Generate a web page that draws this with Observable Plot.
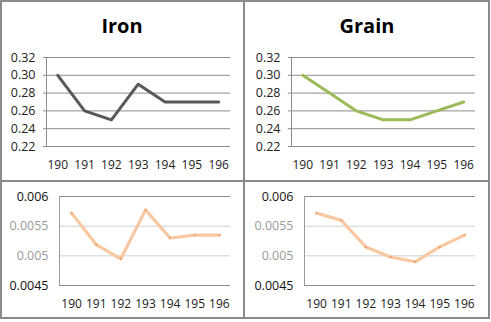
<!DOCTYPE html>
<html><head><meta charset="utf-8">
<script src="https://cdn.jsdelivr.net/npm/d3@7"></script>
<script src="https://cdn.jsdelivr.net/npm/@observablehq/plot@0.6"></script>
<style>
body{margin:0;background:#fff;}
#wrap{position:relative;width:491px;height:322px;font-family:"Open Sans",sans-serif;overflow:hidden;}
.panel{position:absolute;width:244px;}
.title{height:46px;box-sizing:border-box;padding-top:16px;line-height:20px;font-size:20px;font-weight:bold;text-align:center;color:#000;}
.b{position:absolute;background:#8a8a8a;}
svg{display:block;}
</style></head><body>
<div id="wrap">
  <div class="panel" id="p1" style="left:0;top:0"><div class="title">Iron</div></div>
  <div class="panel" id="p2" style="left:245px;top:0"><div class="title">Grain</div></div>
  <div class="panel" id="p3" style="left:0;top:181px"></div>
  <div class="panel" id="p4" style="left:245px;top:181px"></div>
  <div class="b" style="left:0;top:0;width:490px;height:2px"></div>
  <div class="b" style="left:0;top:317px;width:490px;height:2px"></div>
  <div class="b" style="left:0;top:0;width:2px;height:319px"></div>
  <div class="b" style="left:488px;top:0;width:2px;height:319px"></div>
  <div class="b" style="left:243px;top:0;width:2px;height:319px"></div>
  <div class="b" style="left:0;top:180px;width:490px;height:2px"></div>
</div>
<script>
const years = ["190","191","192","193","194","195","196"];
const ironTop = [0.30, 0.26, 0.25, 0.29, 0.27, 0.27, 0.27];
const grainTop = [0.30, 0.28, 0.26, 0.25, 0.25, 0.26, 0.27];
const ironBottom = [0.00572, 0.00519, 0.00495, 0.005775, 0.0053, 0.00535, 0.00535];
const grainBottom = [0.00572, 0.0056, 0.00515, 0.00498, 0.0049, 0.00515, 0.00535];
const topTicks = [0.22, 0.24, 0.26, 0.28, 0.30, 0.32];
const bottomTicks = [0.0045, 0.005, 0.0055, 0.006];
const bottomLabels = ["0.0045", "0.005", "0.0055", "0.006"];

const idx = years.map((_, i) => i);
const font = {fontFamily: "Open Sans, sans-serif"};

function topChart(values, color) {
  const xd = [-0.42, 6.44];
  return Plot.plot({
    width: 244, height: 135,
    marginTop: 11, marginBottom: 35, marginLeft: 46, marginRight: 14,
    style: font,
    x: {type: "linear", domain: xd},
    y: {domain: [0.22, 0.32]},
    marks: [
      Plot.ruleY(topTicks, {stroke: "#8c8c8c", strokeWidth: 1}),
      Plot.ruleX([xd[0]], {stroke: "#8c8c8c"}),
      Plot.axisY({ticks: topTicks, tickFormat: d3.format(".2f"), tickSize: 3, tickPadding: 8, fontSize: 12.5, stroke: "#8c8c8c", color: "#222", label: null}),
      Plot.axisX({ticks: idx, tickFormat: i => years[i], tickSize: 0, tickPadding: 14, fontSize: 12, color: "#222", label: null}),
      Plot.line(idx, {x: idx, y: values, stroke: color, strokeWidth: 3, strokeLinejoin: "round", strokeLinecap: "round"})
    ]
  });
}

function bottomChart(values) {
  const xd = [-0.49, 6.45];
  const ends = [bottomTicks[0], bottomTicks[bottomTicks.length - 1]];
  const mids = bottomTicks.slice(1, -1);
  return Plot.plot({
    width: 244, height: 141,
    marginTop: 15, marginBottom: 37, marginLeft: 59, marginRight: 14,
    style: font,
    x: {type: "linear", domain: xd},
    y: {domain: [0.0045, 0.006]},
    marks: [
      Plot.ruleY(mids, {stroke: "#cfcfcf", strokeWidth: 1}),
      Plot.ruleY(ends, {stroke: "#8c8c8c", strokeWidth: 1}),
      Plot.ruleX([xd[0]], {stroke: "#9a9a9a"}),
      Plot.axisY({ticks: ends, tickFormat: d => bottomLabels[bottomTicks.indexOf(d)], tickSize: 0, tickPadding: 11, fontSize: 12.5, color: "#111", label: null}),
      Plot.axisY({ticks: mids, tickFormat: d => bottomLabels[bottomTicks.indexOf(d)], tickSize: 0, tickPadding: 11, fontSize: 12.5, color: "#9a9a9a", label: null}),
      Plot.axisX({ticks: idx, tickFormat: i => years[i], tickSize: 0, tickPadding: 14, fontSize: 12, color: "#222", label: null}),
      Plot.line(idx, {x: idx, y: values, stroke: "#f9c8a0", strokeWidth: 3.2, strokeLinejoin: "round", strokeLinecap: "round"}),
      Plot.dot(idx, {x: idx, y: values, r: 1.2, fill: "#eba67a", stroke: null})
    ]
  });
}

document.getElementById("p1").append(topChart(ironTop, "#595959"));
document.getElementById("p2").append(topChart(grainTop, "#9bbb59"));
document.getElementById("p3").append(bottomChart(ironBottom));
document.getElementById("p4").append(bottomChart(grainBottom));
</script>
</body></html>
